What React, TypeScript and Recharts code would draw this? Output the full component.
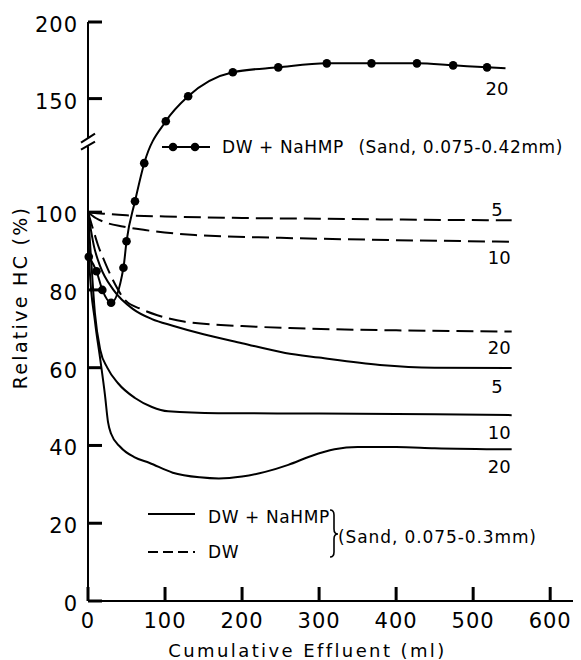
import React from 'react';
import { LineChart, Line, XAxis, YAxis, ReferenceDot } from 'recharts';

const FONT = '"DejaVu Sans", sans-serif';

// ---- axis break mapping (lower scale 0..~118 linear, upper 150..200 compressed)
const BREAK_AT = 118;
const UPPER_BASE = 150;
const UPPER_BASE_POS = 129.2;
const UPPER_RATIO = 0.394;
const toPlot = (v: number) => (v <= BREAK_AT ? v : UPPER_BASE_POS + (v - UPPER_BASE) * UPPER_RATIO);

// ---- ticks
const xTicks = [0, 100, 200, 300, 400, 500, 600];
const yTickLabels = [0, 20, 40, 60, 80, 100, 150, 200];
const yTicks = yTickLabels.map(toPlot);

// ---- DW + NaHMP, Sand 0.075-0.42mm, 20 (marked)
const markedX = [1, 11, 18.6, 30, 46, 50, 61, 73, 101, 130, 188, 247, 310, 368, 427, 474, 518, 542];
const markedY = [88.5, 84.8, 80, 76.7, 85.7, 92.5, 102.8, 112.6, 135.2, 151.5, 167.2, 170.4, 173, 173, 173, 171.7, 170.4, 169.8];

// ---- DW (dashed), Sand 0.075-0.3mm
const dw5X = [0, 20, 50, 100, 200, 300, 400, 550];
const dw5Y = [100, 99.6, 99.2, 98.9, 98.5, 98.3, 98.1, 97.9];
const dw10X = [0, 10, 22, 45, 74, 139, 250, 400, 550];
const dw10Y = [100, 98.5, 97.4, 96.3, 95.4, 94.1, 93.4, 92.8, 92.4];
const dw20X = [0, 6, 13, 22, 35, 48, 70, 90, 126, 200, 262, 400, 550];
const dw20Y = [100, 96, 91.5, 87.1, 81.5, 77.4, 75, 73.5, 71.8, 70.7, 70.2, 69.6, 69.3];

// ---- DW + NaHMP (solid), Sand 0.075-0.3mm
const na5X = [0, 8, 16, 33, 59, 83, 110, 150, 200, 256, 300, 379, 450, 550];
const na5Y = [100, 91, 86, 80, 75, 72.5, 70.8, 68.6, 66.3, 63.8, 62.6, 60.7, 60, 59.9];
const na10X = [0, 4, 9, 16, 25, 39, 61, 83, 104, 169, 300, 450, 550];
const na10Y = [100, 88, 74, 64.5, 60, 56, 52.2, 49.9, 48.8, 48.3, 48.2, 48, 47.8];
const na20X = [0, 2, 9, 16, 22, 26, 30, 42, 60, 80, 110, 145, 170, 200, 230, 260, 290, 320, 350, 400, 450, 550];
const na20Y = [100, 86, 72, 62, 53, 46, 43, 39.6, 37, 35.5, 33, 31.8, 31.5, 32, 33.2, 35, 37.3, 39, 39.6, 39.6, 39.3, 39.0];

const mk = (xs: number[], ys: number[]) => xs.map((x, i) => ({ x, y: toPlot(ys[i]) }));

const markedData = mk(markedX, markedY);
const dw5 = mk(dw5X, dw5Y);
const dw10 = mk(dw10X, dw10Y);
const dw20 = mk(dw20X, dw20Y);
const na5 = mk(na5X, na5Y);
const na10 = mk(na10X, na10Y);
const na20 = mk(na20X, na20Y);

const W = 573;
const H = 652;
const DASH = '17 7';

const endLabel = (text: string, n: number, dx: number, dy: number) => (p: any) => {
  if (p.index !== n - 1) return <g key={`l${p.index}`} />;
  return (
    <text key={`l${p.index}`} x={p.x + dx} y={p.y + dy} textAnchor="end" fontFamily={FONT} fontSize={18} fill="#000">
      {text}
    </text>
  );
};

// tick renderers: the inward tick mark and the label (axis uses tickSize -14, tickMargin 24/41)
const YTick = (props: any) => {
  const { x, y, index } = props;
  return (
    <g>
      <path d={`M${x + 10},${y}h14`} stroke="#000" strokeWidth={3} fill="none" />
      <text x={x} y={y + 10} textAnchor="end" fontFamily={FONT} fontSize={21} style={{ letterSpacing: 1 }} fill="#000">
        {yTickLabels[index]}
      </text>
    </g>
  );
};

const XTick = (props: any) => {
  const { x, y, payload } = props;
  return (
    <g>
      <path d={`M${x},${y - 27}v-14`} stroke="#000" strokeWidth={3} fill="none" />
      <text x={x} y={y} textAnchor="middle" fontFamily={FONT} fontSize={21} style={{ letterSpacing: 1 }} fill="#000">
        {payload.value}
      </text>
    </g>
  );
};

const YTitle = (p: any) => {
  const vb = p.viewBox;
  const cx = vb.x + 12;
  const cy = vb.y + vb.height / 2 - 14;
  return (
    <text x={cx} y={cy} transform={`rotate(-90, ${cx}, ${cy})`} textAnchor="middle" dominantBaseline="central"
      fontFamily={FONT} fontSize={19} style={{ letterSpacing: 2.3 }} fill="#000">
      Relative HC (%)
    </text>
  );
};

const XTitle = (p: any) => {
  const vb = p.viewBox;
  const cx = vb.x + vb.width / 2 - 27;
  return (
    <text x={cx} y={vb.y + 56} textAnchor="middle" fontFamily={FONT} fontSize={18} style={{ letterSpacing: 2.4 }} fill="#000">
      Cumulative Effluent (ml)
    </text>
  );
};

const BreakMark = (p: any) => {
  const { cx, cy } = p;
  return (
    <g>
      <rect x={cx - 3} y={cy - 4} width={6} height={8} fill="#fff" />
      <line x1={cx - 7} y1={cy + 0.5} x2={cx + 7} y2={cy - 8.5} stroke="#000" strokeWidth={2} />
      <line x1={cx - 7} y1={cy + 7.5} x2={cx + 7} y2={cy - 0.5} stroke="#000" strokeWidth={2} />
    </g>
  );
};

const markedDot = (p: any) => {
  if (p.index === markedData.length - 1) return <g key={`d${p.index}`} />;
  return <circle key={`d${p.index}`} cx={p.cx} cy={p.cy} r={4.3} fill="#000" stroke="none" />;
};

const Annotations = () => (
  <g fontFamily={FONT} fill="#000">
    {/* top legend */}
    <line x1={154} x2={202} y1={139} y2={139} stroke="#000" strokeWidth={2} />
    <circle cx={165} cy={139} r={4.3} fill="#000" />
    <circle cx={187} cy={139} r={4.3} fill="#000" />
    <text x={214} y={145} fontSize={17} style={{ letterSpacing: 0.6 }}>DW + NaHMP</text>
    <text x={555} y={145} fontSize={17} textAnchor="end" style={{ letterSpacing: 0.6 }}>(Sand, 0.075-0.42mm)</text>
    {/* bottom legend */}
    <line x1={140} x2={187} y1={506} y2={506} stroke="#000" strokeWidth={2} />
    <text x={200} y={515} fontSize={17} style={{ letterSpacing: 0.6 }}>DW + NaHMP</text>
    <line x1={140} x2={187} y1={544} y2={544} stroke="#000" strokeWidth={2} strokeDasharray="10 5" />
    <text x={200} y={550} fontSize={17} style={{ letterSpacing: 0.6 }}>DW</text>
    <path d="M322,502 Q326,502 326,507 L326,521 Q326,526 330,526 Q326,526 326,531 L326,544 Q326,549 322,549"
      fill="none" stroke="#000" strokeWidth={1.6} />
    <text x={330} y={535} fontSize={17} style={{ letterSpacing: 0.9 }}>(Sand, 0.075-0.3mm)</text>
  </g>
);

export default function App() {
  return (
    <LineChart width={W} height={H} margin={{ top: 14, right: 0, bottom: 0, left: 0 }}>
      <XAxis
        dataKey="x"
        type="number"
        domain={[0, 640]}
        ticks={xTicks}
        interval={0}
        tickSize={-14}
        tickMargin={41}
        tick={<XTick />}
        tickLine={false}
        stroke="#000"
        height={59}
        axisLine={{ stroke: '#000', strokeWidth: 2 }}
        allowDuplicatedCategory={false}
        label={{ content: XTitle }}
      />
      <YAxis
        dataKey="y"
        type="number"
        domain={[0, toPlot(200)]}
        ticks={yTicks}
        interval={0}
        tickSize={-14}
        tickMargin={24}
        tick={<YTick />}
        tickLine={false}
        stroke="#000"
        width={80}
        axisLine={{ stroke: '#000', strokeWidth: 2 }}
        allowDataOverflow
        label={{ content: YTitle }}
      />
      <Line data={dw5} dataKey="y" type="monotone" stroke="#000" strokeWidth={2} strokeDasharray={DASH} dot={false} isAnimationActive={false} label={endLabel('5', dw5.length, -9, -4)} />
      <Line data={dw10} dataKey="y" type="monotone" stroke="#000" strokeWidth={2} strokeDasharray={DASH} dot={false} isAnimationActive={false} label={endLabel('10', dw10.length, -1, 22)} />
      <Line data={dw20} dataKey="y" type="monotone" stroke="#000" strokeWidth={2} strokeDasharray={DASH} dot={false} isAnimationActive={false} label={endLabel('20', dw20.length, -1, 22)} />
      <Line data={na5} dataKey="y" type="monotone" stroke="#000" strokeWidth={2} dot={false} isAnimationActive={false} label={endLabel('5', na5.length, -9, 25)} />
      <Line data={na10} dataKey="y" type="monotone" stroke="#000" strokeWidth={2} dot={false} isAnimationActive={false} label={endLabel('10', na10.length, -1, 24)} />
      <Line data={na20} dataKey="y" type="monotone" stroke="#000" strokeWidth={2} dot={false} isAnimationActive={false} label={endLabel('20', na20.length, -1, 24)} />
      <Line data={markedData} dataKey="y" type="monotone" stroke="#000" strokeWidth={2} dot={markedDot} isAnimationActive={false} label={endLabel('20', markedData.length, 3, 27)} />
      <ReferenceDot x={0} y={BREAK_AT} ifOverflow="visible" shape={BreakMark} />
      <Annotations />
    </LineChart>
  );
}
